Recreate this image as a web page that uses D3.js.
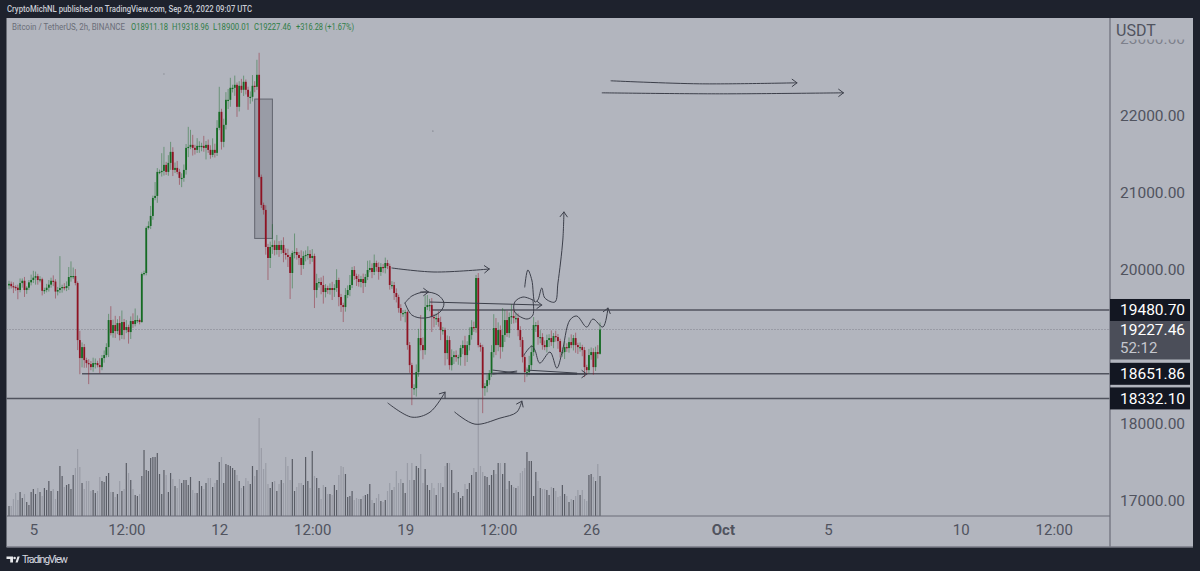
<!DOCTYPE html>
<html><head><meta charset="utf-8">
<script src="https://cdn.jsdelivr.net/npm/d3@7"></script>
<style>html,body{margin:0;padding:0;background:#1e222d}svg{display:block}text{font-family:Roboto,sans-serif}</style>
</head><body><svg id="c" width="1200" height="571"></svg>
<script>
const closes=[19820,19790,19780,19770,19740,19830,19860,19740,19770,19840,19870,
19900,19920,19870,19880,19730,19740,19770,19810,19860,19850,19720,
19740,19766,19779,19766,19792,19909,19922,19922,19831,
19090,18856,18999,18830,18791,18778,18739,18791,18791,18765,18739,18856,18895,18999,
19350,19181,19285,19207,19311,19155,19324,19220,19259,19194,19337,19298,19350,19350,19324,
19948,19961,20546,20572,20702,20936,20962,21274,21274,21287,
21365,21274,21391,21534,21300,21326,21274,21196,21196,21300,
21586,21599,21625,21586,21560,21612,21612,21612,21586,21625,
21560,21495,21560,21521,21846,22054,21664,21885,22210,22210,
22366,22366,22405,22119,22392,22340,22444,22340,22249,22249,
22392,22379,22535,21209,20845,20780,20299,20156,20299,20325,
20260,20325,20260,20325,20221,20195,20169,19961,20221,20234,
20195,20156,20065,20182,20195,20208,20156,20182,
19740,19831,19844,19805,19714,19766,19740,19766,19740,19766,19870,19649,
19545,19519,19675,19740,19805,20000,19922,19883,19844,19883,
19831,19909,20000,20026,19974,20091,20039,19974,20039,20026,20091,20052,
19805,19805,19701,19649,19506,19441,19441,19454,
19025,18765,18466,18466,18674,19116,19025,18960,19519,19545,
19545,19389,19376,19376,19324,19220,19220,18921,19090,18765,
18869,18895,18869,18869,18986,19025,18895,19025,19155,19259,
19246,19896,19025,18999,18466,18492,18570,18661,18934,19246,
19025,19220,18999,19155,19350,19181,19389,19402,19376,19376,
19220,19090,18869,18674,18674,18765,18934,19285,19285,19129,
19129,19025,18999,19090,19116,19064,19142,19129,19077,18934,
18934,18999,18986,19064,19025,19116,19025,18999,18999,18960,
18739,18700,18895,18934,18739,18934,18911,19227.46];
const upperWick=[40,30,50,20,40,60,30,50,20,30,70,
90,60,30,40,20,30,50,60,40,70,30,
40,414,30,50,60,130,190,110,90,
20,120,60,40,30,50,40,70,60,30,90,40,60,50,
80,180,70,120,50,90,150,40,90,30,60,100,150,60,20,
20,30,20,60,130,30,180,50,30,230,
234,40,100,130,60,70,90,40,60,70,
50,260,195,130,40,100,60,40,130,50,
70,60,150,80,100,325,40,80,100,140,
130,40,120,30,60,90,80,30,40,70,
140,60,195,286,30,30,60,40,70,270,
60,130,50,60,100,60,80,30,30,240,
50,40,100,60,60,100,50,90,
30,120,50,60,120,50,30,60,80,50,140,30,
40,30,90,60,130,40,50,30,60,40,
70,40,120,100,60,110,30,60,50,40,70,40,
30,50,40,60,30,50,40,30,
20,40,30,50,100,120,299,100,150,130,
80,90,40,60,90,70,40,30,60,50,
100,50,60,30,40,60,120,50,100,90,
70,40,65,30,30,40,70,40,90,180,
130,100,60,351,130,120,60,156,90,70,
60,50,40,30,60,120,90,104,40,60,
90,50,60,70,50,100,40,70,40,30,
60,80,50,60,100,40,70,30,60,30,
40,30,80,60,50,70,90,91];
const lowerWick=[50,30,80,40,120,30,60,90,50,30,40,
40,90,60,30,60,40,30,50,40,60,90,
50,40,60,30,40,50,60,40,30,
130,210,120,100,60,260,40,60,70,30,80,40,60,30,
130,30,60,90,40,70,50,120,40,150,90,50,30,40,30,
10,20,30,20,40,50,30,90,30,60,
60,40,50,90,80,40,30,90,120,50,
60,120,30,100,60,40,90,70,50,150,
40,50,30,60,40,30,100,70,60,120,
90,60,104,130,60,40,80,60,169,90,
60,70,40,20,40,60,100,286,130,90,
70,60,90,50,120,60,130,338,200,70,
60,90,130,50,70,60,80,50,
234,100,60,120,150,70,50,60,130,90,50,120,
90,195,60,40,80,40,50,90,60,70,
130,50,40,30,80,40,60,100,50,60,70,40,
60,50,90,70,60,100,50,120,
60,100,221,90,110,60,70,120,60,40,
80,195,120,90,60,130,60,160,80,60,
70,90,60,100,110,80,140,90,70,60,
50,60,30,60,325,100,80,60,50,70,
130,80,150,60,90,50,60,90,70,60,
80,90,70,130,60,40,60,50,90,100,
80,60,40,70,90,50,80,60,100,70,
60,90,50,60,40,70,100,90,60,80,
130,65,40,60,100,50,60,11];
const volumes=[10,10,17,23,16,24,18,22,14,11,24,27,22,28,24,20,28,26,35,25,27,17,25,50,40,29,31,32,27,41,48,67,49,33,27,35,35,25,26,23,25,39,35,34,40,43,24,24,19,22,35,25,27,53,43,36,27,21,20,22,40,66,46,45,58,59,59,63,42,22,46,41,24,43,37,30,28,37,33,36,36,31,39,26,23,23,35,30,27,33,38,38,29,33,36,54,59,33,52,51,50,48,46,41,35,28,30,38,35,32,50,40,46,98,68,47,53,32,28,34,35,25,32,36,33,59,50,36,57,25,29,33,33,31,59,35,28,
65,40,38,28,17,31,29,22,22,21,31,26,41,50,49,42,19,20,25,16,18,17,17,20,21,22,32,16,13,18,22,15,14,16,25,33,26,29,45,33,37,33,23,53,36,53,36,50,48,62,33,47,31,26,33,28,21,33,33,29,50,53,53,46,23,26,24,18,20,32,27,33,41,48,44,117,50,44,40,39,31,41,46,42,53,53,42,53,27,35,31,29,28,30,43,45,48,64,55,55,20,44,35,28,27,27,26,21,29,28,25,19,20,31,22,20,14,17,16,20,26,21,26,17,15,41,42,39,35,52,40];

const firstOpen=19800;
const priceTicks=[17000,18000,20000,21000,22000,23000];
const timeTickBars=[11,53,95,137,179,221,263,322.5,370,430,472];
const timeTickLabels=["5","12:00","12","12:00","19","12:00","26","Oct","5","10","12:00"];
const levels=[19480.70,18651.86,18332.10];
const levelStartBars=[191,33,-3];
const lastPrice=19227.46, countdown="52:12";
const zoneBars=[111,119], zonePrices=[22220,20410];
const legendParts=["Bitcoin / TetherUS, 2h, BINANCE","O18911.18","H19318.96","L18900.01","C19227.46","+316.28 (+1.67%)"];

// hand-drawn pen strokes in [bar, price]
const strokes=[
 {arrow:1,p:[[272,22457],[312,22418],[356,22431]]},
 {arrow:1,p:[[268,22301],[321,22288],[377,22301]]},
 {arrow:1,p:[[173,20026],[192,19974],[217,20013]]},
 {arrow:0,p:[[178.9,19571],[182,19662],[187.9,19714],[193.8,19675],[196.5,19571],[194.7,19454],[187.9,19376],[182,19415],[178.9,19571]]},
 {arrow:1,p:[[190.2,19584],[240.7,19545]]},
 {arrow:0,p:[[236.7,19610],[232.2,19649],[228.5,19584],[228.5,19454],[234,19363],[236.7,19415],[236.7,19610]]},
 {arrow:1,p:[[233,19779],[234.4,20000],[236.2,19870],[237.6,19584],[238.9,19610],[240.7,19766],[242.1,19636],[246.6,19584],[248,19831],[250.2,20390],[250.7,20754]]},
 {arrow:1,p:[[232.6,18895],[236.2,19012],[237.6,18960],[239.8,18791],[244.4,18934],[247.5,18726],[249.8,18921],[253.4,19350],[256.5,19402],[261,19259],[263.8,19363],[268.3,19259],[270.6,19506]]},
 {arrow:1,p:[[218.6,18661],[261,18648]]},
 {arrow:0,p:[[218.6,18700],[229.4,18661]]},
 {arrow:0,p:[[218.6,18648],[229.4,18687]]},
 {arrow:0,p:[[234,18700],[256.5,18661]]},
 {arrow:0,p:[[234,18648],[256.5,18648]]},
 {arrow:1,p:[[171.2,18271],[182,18089],[190.2,18154],[197,18414]]},
 {arrow:1,p:[[201.4,18154],[210.5,17998],[221.8,18076],[229.4,18154],[231.7,18297]]},
 {arrow:1,p:[[186,19714],[189.5,19714]]}
];

const svg=d3.select("#c");
const L=6.5,R=1193,T=18,B=547,AX=1110,VB=516;
const x=d3.scaleLinear().domain([0,267]).range([9,600]);
const y=d3.scaleLinear().domain([17000,23000]).range([501,39]);
const vol=d3.scaleLinear().domain([0,100]).range([VB,VB-100]);
const INK="#50535e";

svg.append("rect").attr("width",1200).attr("height",571).attr("fill","#1e222d");
svg.append("rect").attr("x",L).attr("y",T).attr("width",R-L).attr("height",B-T).attr("fill","#b2b5be");
const defs=svg.append("defs");
defs.append("clipPath").attr("id","pane").append("rect").attr("x",L).attr("y",T).attr("width",AX-L).attr("height",VB-T);
defs.append("clipPath").attr("id","pscale").append("rect").attr("x",AX).attr("y",39.5).attr("width",R-AX).attr("height",B-39.5);

svg.append("text").attr("x",7).attr("y",12).attr("font-size",8.6).attr("font-weight",500).attr("fill","#c9ccd4")
  .attr("textLength",245).attr("lengthAdjust","spacingAndGlyphs")
  .text("CryptoMichNL published on TradingView.com, Sep 26, 2022 09:07 UTC");

const pane=svg.append("g").attr("clip-path","url(#pane)");
const candles=closes.map((c,i)=>{const o=i?closes[i-1]:firstOpen;return{i,o,c,h:Math.max(o,c)+upperWick[i],l:Math.min(o,c)-lowerWick[i],v:volumes[i]};});
pane.append("g").selectAll("rect").data(candles).join("rect")
  .attr("x",d=>x(d.i)-0.6).attr("width",1.2)
  .attr("y",d=>vol(d.v)).attr("height",d=>VB-vol(d.v))
  .attr("fill",d=>d.c>=d.o?"#5a5d66":"#999ca6");
pane.append("line").attr("x1",L).attr("x2",AX).attr("y1",y(lastPrice)).attr("y2",y(lastPrice))
  .attr("stroke","#80838d").attr("stroke-width",1).attr("stroke-dasharray","1 2");
pane.append("rect").attr("x",x(zoneBars[0])).attr("width",x(zoneBars[1])-x(zoneBars[0]))
  .attr("y",y(zonePrices[0])).attr("height",y(zonePrices[1])-y(zonePrices[0]))
  .attr("fill","#50535e").attr("fill-opacity",.25).attr("stroke","#62656f").attr("stroke-width",1);
levels.forEach((p,k)=>{
  pane.append("line").attr("x1",x(levelStartBars[k])).attr("x2",AX).attr("y1",y(p)).attr("y2",y(p))
    .attr("stroke","#50535e").attr("stroke-width",1.5);
});
const up="#156b24",dn="#8e1323";
pane.append("g").selectAll("line").data(candles).join("line")
  .attr("x1",d=>x(d.i)).attr("x2",d=>x(d.i)).attr("y1",d=>y(d.h)).attr("y2",d=>y(d.l))
  .attr("stroke",d=>d.c>=d.o?up:dn).attr("stroke-opacity",.45).attr("stroke-width",1);
pane.append("g").selectAll("rect").data(candles).join("rect")
  .attr("x",d=>x(d.i)-0.9).attr("width",1.8)
  .attr("y",d=>y(Math.max(d.o,d.c))).attr("height",d=>Math.max(1.2,Math.abs(y(d.o)-y(d.c))))
  .attr("fill",d=>d.c>=d.o?up:dn);
const pen=d3.line().x(d=>x(d[0])).y(d=>y(d[1])).curve(d3.curveCatmullRom.alpha(.5));
const sg=pane.append("g").attr("fill","none").attr("stroke","#3c3f4a").attr("stroke-width",1).attr("stroke-linecap","round");
strokes.forEach(s=>{
  sg.append("path").attr("d",pen(s.p));
  if(s.arrow){
    const a=s.p[s.p.length-1],b=s.p[s.p.length-2];
    const ang=Math.atan2(y(a[1])-y(b[1]),x(a[0])-x(b[0])),ax=x(a[0]),ay=y(a[1]),r=6;
    sg.append("path").attr("d",d3.line()([[ax+r*Math.cos(ang+2.5),ay+r*Math.sin(ang+2.5)],[ax,ay],[ax+r*Math.cos(ang-2.5),ay+r*Math.sin(ang-2.5)]]));
  }
});
pane.append("circle").attr("cx",x(70)).attr("cy",y(22545)).attr("r",.8).attr("fill","#8f929b");
pane.append("circle").attr("cx",x(191.5)).attr("cy",y(21805)).attr("r",.6).attr("fill","#60636e");

svg.append("line").attr("x1",AX).attr("x2",AX).attr("y1",T).attr("y2",B).attr("stroke","#787b86").attr("stroke-width",1.5);
svg.append("line").attr("x1",L).attr("x2",AX).attr("y1",VB).attr("y2",VB).attr("stroke","#6a6d78").attr("stroke-width",1);
svg.append("line").attr("x1",L).attr("x2",R).attr("y1",B).attr("y2",B).attr("stroke","#787b86").attr("stroke-width",1.5);

const xAxis=d3.axisBottom(x).tickValues(timeTickBars).tickSize(0).tickPadding(0)
  .tickFormat((d,i)=>timeTickLabels[i]);
const gx=svg.append("g").attr("transform",`translate(0,${VB+8})`).call(xAxis);
gx.select(".domain").remove();
gx.selectAll("text").attr("font-family","Roboto,sans-serif").attr("font-size",15).attr("fill",INK)
  .attr("font-weight",(d,i)=>timeTickLabels[i]==="Oct"?700:400);
const yAxis=d3.axisRight(y).tickValues(priceTicks).tickSize(0).tickPadding(0).tickFormat(d3.format(".2f"));
const gy=svg.append("g").attr("clip-path","url(#pscale)").append("g").attr("transform",`translate(1120,0)`).call(yAxis);
gy.select(".domain").remove();
gy.selectAll("text").attr("font-family","Roboto,sans-serif").attr("font-size",15.5).attr("fill",INK)
  .attr("fill-opacity",d=>d===23000?.55:1);
svg.append("text").attr("x",1116).attr("y",36).attr("font-size",16).attr("fill",INK).text("USDT");

const legendX=[12,131,172,213,254,296];
const legendW=[113,37,37,37,37,58];
legendParts.forEach((t,i)=>{
  svg.append("text").attr("x",legendX[i]).attr("y",30).attr("font-size",8.6)
    .attr("textLength",legendW[i]).attr("lengthAdjust","spacingAndGlyphs")
    .attr("fill",i?"#2f7d47":"#6a6d78").text(t);
});

svg.append("rect").attr("x",AX).attr("width",80).attr("y",y(lastPrice)-11).attr("height",41).attr("fill","#4b4e59");
svg.append("text").attr("x",1120).attr("y",y(lastPrice)+5.5).attr("font-size",15.5).attr("fill","#fff").text(d3.format(".2f")(lastPrice));
svg.append("text").attr("x",1120).attr("y",y(lastPrice)+24).attr("font-size",15).attr("fill","#c5c7ce").text(countdown);
levels.forEach(p=>{
  svg.append("rect").attr("x",AX).attr("width",80).attr("y",y(p)-11).attr("height",22).attr("fill","#131722");
  svg.append("text").attr("x",1120).attr("y",y(p)+5.5).attr("font-size",15.5).attr("fill","#fff").text(d3.format(".2f")(p));
});

const logo=svg.append("g").attr("fill","#e8e9ec");
logo.append("path").attr("d","M6.5 556.5h6.5v6h-2.8v-3.6h-3.7z");
logo.append("circle").attr("cx",14.6).attr("cy",558).attr("r",1.3);
logo.append("path").attr("d","M15.5 562.5l2-6h2.2l-2 6z");
svg.append("text").attr("x",22).attr("y",563).attr("font-size",10.5).attr("fill","#d8dae0").attr("textLength",46).text("TradingView");
</script></body></html>
